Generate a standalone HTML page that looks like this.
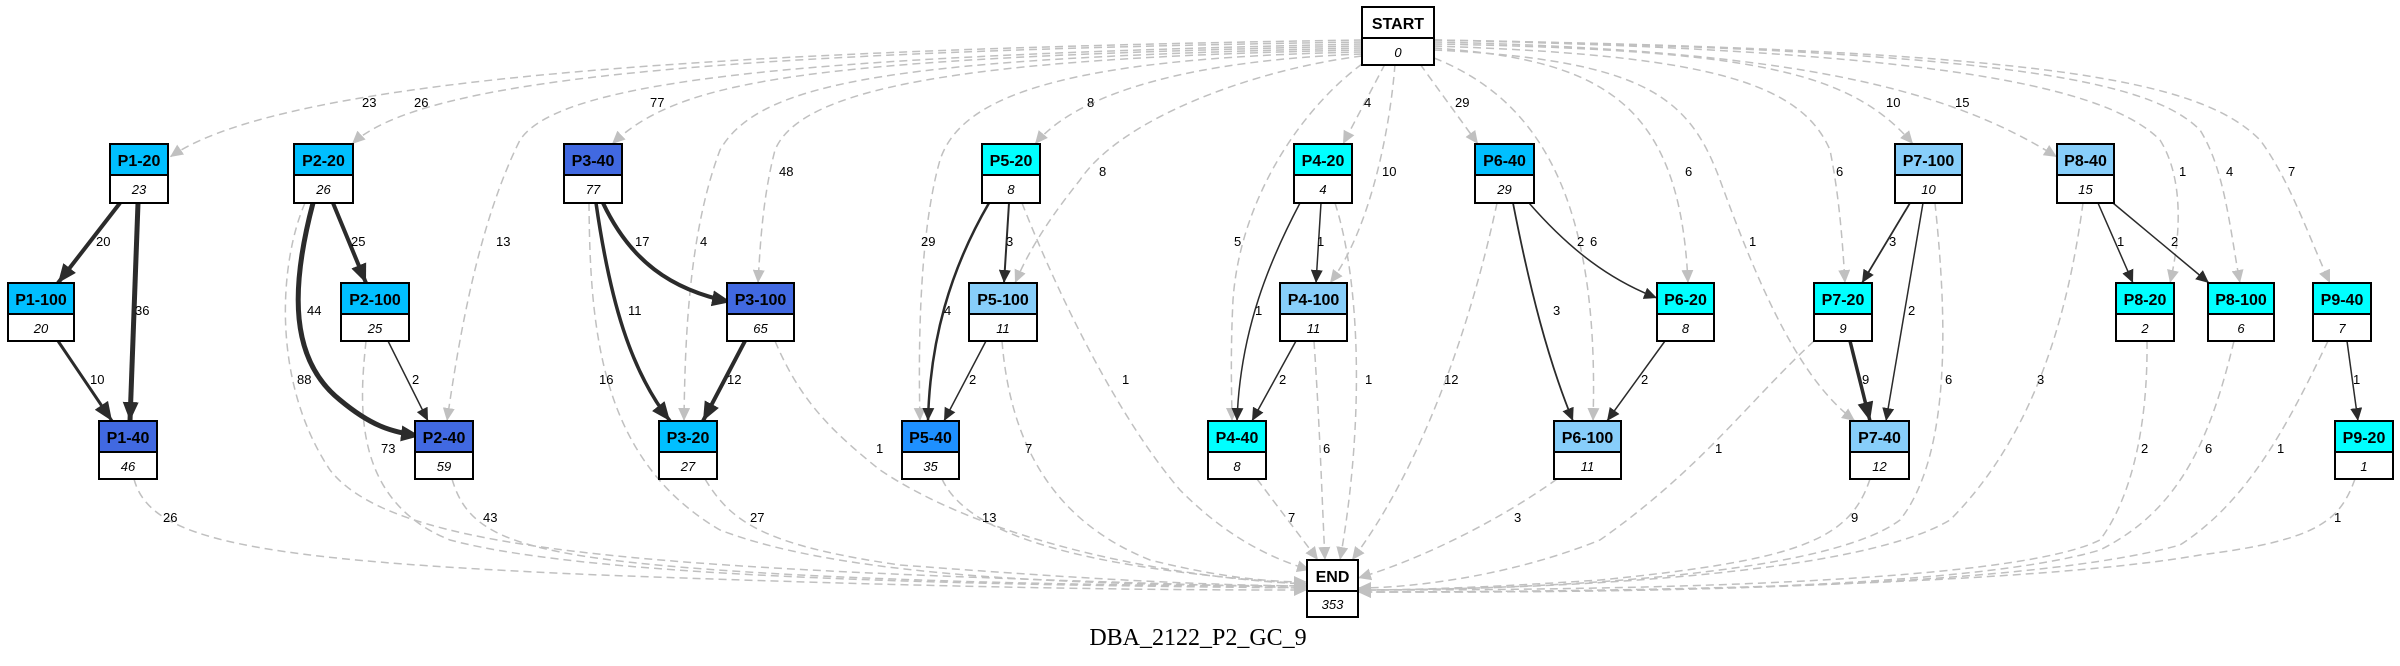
<!DOCTYPE html>
<html><head><meta charset="utf-8"><style>
html,body{margin:0;padding:0;background:#fff;}
svg{display:block;}
.g{fill:none;stroke:#c0c0c0;stroke-width:1.5;stroke-dasharray:8,5;marker-end:url(#ag);}
.b{fill:none;stroke:#2b2b2b;marker-end:url(#ab);}
.bt{fill:none;stroke:#2b2b2b;marker-end:url(#abt);}
.l{font-family:"Liberation Sans",sans-serif;font-size:13px;fill:#000;}
.h{font-family:"Liberation Sans",sans-serif;font-size:16px;font-weight:bold;fill:#000;text-anchor:middle;}
.v{font-family:"Liberation Sans",sans-serif;font-size:13px;font-style:italic;fill:#000;text-anchor:middle;}
.n{stroke:#000;stroke-width:2;}
</style></head><body>
<svg width="2400" height="666" viewBox="0 0 2400 666" xmlns="http://www.w3.org/2000/svg">
<defs>
<marker id="ag" markerUnits="userSpaceOnUse" markerWidth="14" markerHeight="12" refX="13" refY="6" orient="auto"><path d="M0,0 L13,6 L0,12 z" fill="#c0c0c0"/></marker>
<marker id="ab" markerUnits="userSpaceOnUse" markerWidth="14" markerHeight="12" refX="13" refY="6" orient="auto"><path d="M0,0 L13,6 L0,12 z" fill="#2b2b2b"/></marker>
<marker id="abt" markerUnits="userSpaceOnUse" markerWidth="20" markerHeight="16" refX="19" refY="8" orient="auto"><path d="M0,0 L19,8 L0,16 z" fill="#2b2b2b"/></marker>
</defs>

<!-- START edges -->
<path class="g" d="M1362,40 C 700,50 280,80 170,157"/>
<path class="g" d="M1362,42 C 700,52 420,80 352,144"/>
<path class="g" d="M1362,44 C 800,56 560,80 520,140 C 480,220 460,330 447,421"/>
<path class="g" d="M1362,46 C 800,58 680,80 612,144"/>
<path class="g" d="M1362,48 C 900,58 760,80 720,150 C 690,230 685,330 684,421"/>
<path class="g" d="M1362,50 C 950,58 800,90 775,150 C 762,200 760,250 758,283"/>
<path class="g" d="M1362,52 C 1050,58 960,100 940,160 C 920,230 918,340 920,421"/>
<path class="g" d="M1362,54 C 1200,60 1080,90 1035,144"/>
<path class="g" d="M1362,56 C 1250,70 1120,120 1080,180 C 1040,230 1025,260 1015,283"/>
<path class="g" d="M1362,64 C 1300,110 1240,200 1233,300 C 1230,360 1232,400 1232,421"/>
<path class="g" d="M1385,64 L1343,144"/>
<path class="g" d="M1395,64 C 1390,130 1370,230 1330,283"/>
<path class="g" d="M1420,64 L1478,144"/>
<path class="g" d="M1434,58 C 1540,100 1600,200 1593,421"/>
<path class="g" d="M1434,48 C 1600,60 1680,100 1688,283"/>
<path class="g" d="M1434,50 C 1650,60 1690,100 1720,180 C 1760,290 1800,380 1855,421"/>
<path class="g" d="M1434,46 C 1700,55 1800,80 1830,150 C 1840,200 1843,250 1845,283"/>
<path class="g" d="M1434,44 C 1750,50 1850,70 1913,144"/>
<path class="g" d="M1434,42 C 1800,50 1950,90 2057,157"/>
<path class="g" d="M1434,40 C 1900,50 2100,80 2160,140 C 2185,180 2180,240 2170,283"/>
<path class="g" d="M1434,40 C 2000,50 2150,80 2200,130 C 2225,170 2230,230 2240,283"/>
<path class="g" d="M1434,40 C 2050,50 2200,80 2260,140 C 2290,180 2310,240 2330,283"/>

<!-- END edges -->
<path class="g" d="M134,479 C 150,540 250,560 600,575 C 1000,590 1200,590 1307,590"/>
<path class="g" d="M305,203 C 280,260 270,380 330,470 C 400,560 700,570 1307,588"/>
<path class="g" d="M366,341 C 360,400 350,500 450,540 C 600,580 1000,585 1307,588"/>
<path class="g" d="M452,479 C 470,540 520,560 800,575 C 1000,585 1200,586 1307,586"/>
<path class="g" d="M589,203 C 590,330 600,460 720,530 C 850,580 1100,585 1307,586"/>
<path class="g" d="M705,479 C 730,520 760,545 900,565 C 1100,580 1200,585 1307,586"/>
<path class="g" d="M775,341 C 800,400 830,430 880,470 C 1000,550 1200,580 1307,584"/>
<path class="g" d="M942,479 C 970,540 1100,570 1307,584"/>
<path class="g" d="M1002,341 C 1010,440 1050,520 1150,560 C 1230,580 1280,582 1307,582"/>
<path class="g" d="M1022,203 C 1060,300 1120,420 1180,490 C 1220,530 1260,555 1310,570"/>
<path class="g" d="M1257,479 L1318,560"/>
<path class="g" d="M1314,341 C 1320,430 1322,500 1325,560"/>
<path class="g" d="M1335,203 C 1360,280 1365,420 1340,560"/>
<path class="g" d="M1497,203 C 1470,330 1420,470 1352,560"/>
<path class="g" d="M1557,479 C 1500,520 1420,560 1358,578"/>
<path class="g" d="M1814,341 C 1750,400 1700,470 1600,540 C 1500,580 1400,588 1358,588"/>
<path class="g" d="M1870,479 C 1850,540 1800,560 1600,580 C 1450,590 1380,590 1358,590"/>
<path class="g" d="M1935,203 C 1945,300 1955,450 1900,520 C 1820,580 1500,590 1358,590"/>
<path class="g" d="M2083,203 C 2070,300 2040,430 1950,520 C 1850,580 1500,590 1358,590"/>
<path class="g" d="M2147,341 C 2148,430 2130,500 2100,540 C 2000,590 1500,590 1358,590"/>
<path class="g" d="M2234,341 C 2210,440 2180,510 2100,550 C 1950,595 1500,592 1358,592"/>
<path class="g" d="M2328,341 C 2290,420 2250,500 2180,545 C 2000,595 1500,592 1358,592"/>
<path class="g" d="M2355,479 C 2340,520 2320,540 2200,555 C 2000,590 1500,592 1358,592"/>

<!-- solid edges -->
<path class="bt" stroke-width="4" d="M120,203 L58,283"/>
<path class="bt" stroke-width="5" d="M138,203 L130,421"/>
<path class="bt" stroke-width="3" d="M58,341 L112,421"/>
<path class="bt" stroke-width="5" d="M313,203 C 290,290 290,360 340,400 C 370,425 390,432 420,436"/>
<path class="bt" stroke-width="4" d="M333,203 L366,283"/>
<path class="b" stroke-width="1.5" d="M388,341 L428,421"/>
<path class="bt" stroke-width="3.5" d="M596,203 C 610,300 630,370 670,421"/>
<path class="bt" stroke-width="4" d="M603,203 C 630,260 670,290 731,302"/>
<path class="bt" stroke-width="4" d="M745,341 L703,421"/>
<path class="b" stroke-width="2.5" d="M989,203 C 950,270 930,340 928,421"/>
<path class="b" stroke-width="2" d="M1009,203 L1004,283"/>
<path class="b" stroke-width="1.5" d="M986,341 L944,421"/>
<path class="b" stroke-width="1.5" d="M1300,203 C 1270,260 1240,330 1237,421"/>
<path class="b" stroke-width="1.5" d="M1321,203 L1316,283"/>
<path class="b" stroke-width="1.5" d="M1296,341 L1252,421"/>
<path class="b" stroke-width="1.8" d="M1513,203 C 1530,290 1548,360 1573,421"/>
<path class="b" stroke-width="1.5" d="M1529,203 C 1570,250 1610,280 1657,298"/>
<path class="b" stroke-width="1.5" d="M1665,341 L1607,421"/>
<path class="b" stroke-width="1.8" d="M1910,203 L1862,283"/>
<path class="b" stroke-width="1.5" d="M1923,203 L1886,421"/>
<path class="bt" stroke-width="3.5" d="M1850,341 L1870,421"/>
<path class="b" stroke-width="1.5" d="M2098,203 L2133,283"/>
<path class="b" stroke-width="1.5" d="M2113,203 L2209,283"/>
<path class="b" stroke-width="1.5" d="M2347,341 L2358,421"/>

<!-- edge labels -->
<g class="l">
<text x="362" y="107">23</text><text x="414" y="107">26</text><text x="650" y="107">77</text><text x="779" y="176">48</text>
<text x="496" y="246">13</text><text x="700" y="246">4</text><text x="96" y="246">20</text><text x="135" y="315">36</text>
<text x="90" y="384">10</text><text x="307" y="315">44</text><text x="351" y="246">25</text><text x="297" y="384">88</text>
<text x="412" y="384">2</text><text x="381" y="453">73</text><text x="635" y="246">17</text><text x="628" y="315">11</text>
<text x="599" y="384">16</text><text x="727" y="384">12</text><text x="163" y="522">26</text><text x="483" y="522">43</text><text x="750" y="522">27</text>
<text x="1087" y="107">8</text><text x="1099" y="176">8</text><text x="921" y="246">29</text><text x="1006" y="246">3</text>
<text x="944" y="315">4</text><text x="969" y="384">2</text><text x="1122" y="384">1</text><text x="876" y="453">1</text>
<text x="1025" y="453">7</text><text x="982" y="522">13</text><text x="1364" y="107">4</text><text x="1455" y="107">29</text>
<text x="1382" y="176">10</text><text x="1234" y="246">5</text><text x="1317" y="246">1</text><text x="1255" y="315">1</text>
<text x="1279" y="384">2</text><text x="1365" y="384">1</text><text x="1444" y="384">12</text><text x="1323" y="453">6</text>
<text x="1288" y="522">7</text><text x="1553" y="315">3</text><text x="1577" y="246">2</text><text x="1590" y="246">6</text>
<text x="1514" y="522">3</text><text x="1685" y="176">6</text><text x="1836" y="176">6</text><text x="1749" y="246">1</text>
<text x="1886" y="107">10</text><text x="1955" y="107">15</text><text x="1889" y="246">3</text><text x="1908" y="315">2</text>
<text x="1945" y="384">6</text><text x="1862" y="384">9</text><text x="1641" y="384">2</text><text x="1715" y="453">1</text>
<text x="1851" y="522">9</text><text x="2179" y="176">1</text><text x="2226" y="176">4</text><text x="2288" y="176">7</text>
<text x="2117" y="246">1</text><text x="2171" y="246">2</text><text x="2037" y="384">3</text><text x="2141" y="453">2</text>
<text x="2205" y="453">6</text><text x="2277" y="453">1</text><text x="2353" y="384">1</text><text x="2334" y="522">1</text>
</g>

<!-- nodes -->
<g>
<rect class="n" x="1362" y="7" width="72" height="31" fill="#fff"/><rect class="n" x="1362" y="38" width="72" height="27" fill="#fff"/>
<text class="h" x="1398" y="29">START</text><text class="v" x="1398" y="57">0</text>

<rect class="n" x="1307" y="560" width="51" height="31" fill="#fff"/><rect class="n" x="1307" y="591" width="51" height="26" fill="#fff"/>
<text class="h" x="1332.5" y="582">END</text><text class="v" x="1332.5" y="609">353</text>
</g>

<g>
<!-- row1 -->
<rect class="n" x="110" y="144" width="58" height="31" fill="#00BFFF"/><rect class="n" x="110" y="175" width="58" height="28" fill="#fff"/><text class="h" x="139" y="166">P1-20</text><text class="v" x="139" y="194">23</text>
<rect class="n" x="294" y="144" width="59" height="31" fill="#00BFFF"/><rect class="n" x="294" y="175" width="59" height="28" fill="#fff"/><text class="h" x="323.5" y="166">P2-20</text><text class="v" x="323.5" y="194">26</text>
<rect class="n" x="564" y="144" width="58" height="31" fill="#4169E1"/><rect class="n" x="564" y="175" width="58" height="28" fill="#fff"/><text class="h" x="593" y="166">P3-40</text><text class="v" x="593" y="194">77</text>
<rect class="n" x="982" y="144" width="58" height="31" fill="#00FFFF"/><rect class="n" x="982" y="175" width="58" height="28" fill="#fff"/><text class="h" x="1011" y="166">P5-20</text><text class="v" x="1011" y="194">8</text>
<rect class="n" x="1294" y="144" width="58" height="31" fill="#00FFFF"/><rect class="n" x="1294" y="175" width="58" height="28" fill="#fff"/><text class="h" x="1323" y="166">P4-20</text><text class="v" x="1323" y="194">4</text>
<rect class="n" x="1475" y="144" width="59" height="31" fill="#00BFFF"/><rect class="n" x="1475" y="175" width="59" height="28" fill="#fff"/><text class="h" x="1504.5" y="166">P6-40</text><text class="v" x="1504.5" y="194">29</text>
<rect class="n" x="1895" y="144" width="67" height="31" fill="#87CEFA"/><rect class="n" x="1895" y="175" width="67" height="28" fill="#fff"/><text class="h" x="1928.5" y="166">P7-100</text><text class="v" x="1928.5" y="194">10</text>
<rect class="n" x="2057" y="144" width="57" height="31" fill="#87CEFA"/><rect class="n" x="2057" y="175" width="57" height="28" fill="#fff"/><text class="h" x="2085.5" y="166">P8-40</text><text class="v" x="2085.5" y="194">15</text>

<!-- row2 -->
<rect class="n" x="8" y="283" width="66" height="31" fill="#00BFFF"/><rect class="n" x="8" y="314" width="66" height="27" fill="#fff"/><text class="h" x="41" y="305">P1-100</text><text class="v" x="41" y="333">20</text>
<rect class="n" x="341" y="283" width="68" height="31" fill="#00BFFF"/><rect class="n" x="341" y="314" width="68" height="27" fill="#fff"/><text class="h" x="375" y="305">P2-100</text><text class="v" x="375" y="333">25</text>
<rect class="n" x="727" y="283" width="67" height="31" fill="#4169E1"/><rect class="n" x="727" y="314" width="67" height="27" fill="#fff"/><text class="h" x="760.5" y="305">P3-100</text><text class="v" x="760.5" y="333">65</text>
<rect class="n" x="969" y="283" width="68" height="31" fill="#87CEFA"/><rect class="n" x="969" y="314" width="68" height="27" fill="#fff"/><text class="h" x="1003" y="305">P5-100</text><text class="v" x="1003" y="333">11</text>
<rect class="n" x="1280" y="283" width="67" height="31" fill="#87CEFA"/><rect class="n" x="1280" y="314" width="67" height="27" fill="#fff"/><text class="h" x="1313.5" y="305">P4-100</text><text class="v" x="1313.5" y="333">11</text>
<rect class="n" x="1657" y="283" width="57" height="31" fill="#00FFFF"/><rect class="n" x="1657" y="314" width="57" height="27" fill="#fff"/><text class="h" x="1685.5" y="305">P6-20</text><text class="v" x="1685.5" y="333">8</text>
<rect class="n" x="1814" y="283" width="58" height="31" fill="#00FFFF"/><rect class="n" x="1814" y="314" width="58" height="27" fill="#fff"/><text class="h" x="1843" y="305">P7-20</text><text class="v" x="1843" y="333">9</text>
<rect class="n" x="2116" y="283" width="58" height="31" fill="#00FFFF"/><rect class="n" x="2116" y="314" width="58" height="27" fill="#fff"/><text class="h" x="2145" y="305">P8-20</text><text class="v" x="2145" y="333">2</text>
<rect class="n" x="2208" y="283" width="66" height="31" fill="#00FFFF"/><rect class="n" x="2208" y="314" width="66" height="27" fill="#fff"/><text class="h" x="2241" y="305">P8-100</text><text class="v" x="2241" y="333">6</text>
<rect class="n" x="2313" y="283" width="58" height="31" fill="#00FFFF"/><rect class="n" x="2313" y="314" width="58" height="27" fill="#fff"/><text class="h" x="2342" y="305">P9-40</text><text class="v" x="2342" y="333">7</text>

<!-- row3 -->
<rect class="n" x="99" y="421" width="58" height="31" fill="#4169E1"/><rect class="n" x="99" y="452" width="58" height="27" fill="#fff"/><text class="h" x="128" y="443">P1-40</text><text class="v" x="128" y="471">46</text>
<rect class="n" x="415" y="421" width="58" height="31" fill="#4169E1"/><rect class="n" x="415" y="452" width="58" height="27" fill="#fff"/><text class="h" x="444" y="443">P2-40</text><text class="v" x="444" y="471">59</text>
<rect class="n" x="659" y="421" width="58" height="31" fill="#00BFFF"/><rect class="n" x="659" y="452" width="58" height="27" fill="#fff"/><text class="h" x="688" y="443">P3-20</text><text class="v" x="688" y="471">27</text>
<rect class="n" x="902" y="421" width="57" height="31" fill="#1E90FF"/><rect class="n" x="902" y="452" width="57" height="27" fill="#fff"/><text class="h" x="930.5" y="443">P5-40</text><text class="v" x="930.5" y="471">35</text>
<rect class="n" x="1208" y="421" width="58" height="31" fill="#00FFFF"/><rect class="n" x="1208" y="452" width="58" height="27" fill="#fff"/><text class="h" x="1237" y="443">P4-40</text><text class="v" x="1237" y="471">8</text>
<rect class="n" x="1554" y="421" width="67" height="31" fill="#87CEFA"/><rect class="n" x="1554" y="452" width="67" height="27" fill="#fff"/><text class="h" x="1587.5" y="443">P6-100</text><text class="v" x="1587.5" y="471">11</text>
<rect class="n" x="1850" y="421" width="59" height="31" fill="#87CEFA"/><rect class="n" x="1850" y="452" width="59" height="27" fill="#fff"/><text class="h" x="1879.5" y="443">P7-40</text><text class="v" x="1879.5" y="471">12</text>
<rect class="n" x="2335" y="421" width="58" height="31" fill="#00FFFF"/><rect class="n" x="2335" y="452" width="58" height="27" fill="#fff"/><text class="h" x="2364" y="443">P9-20</text><text class="v" x="2364" y="471">1</text>
</g>

<text x="1198" y="645" text-anchor="middle" font-family="'Liberation Serif',serif" font-size="24" fill="#000">DBA_2122_P2_GC_9</text>
</svg>
</body></html>
